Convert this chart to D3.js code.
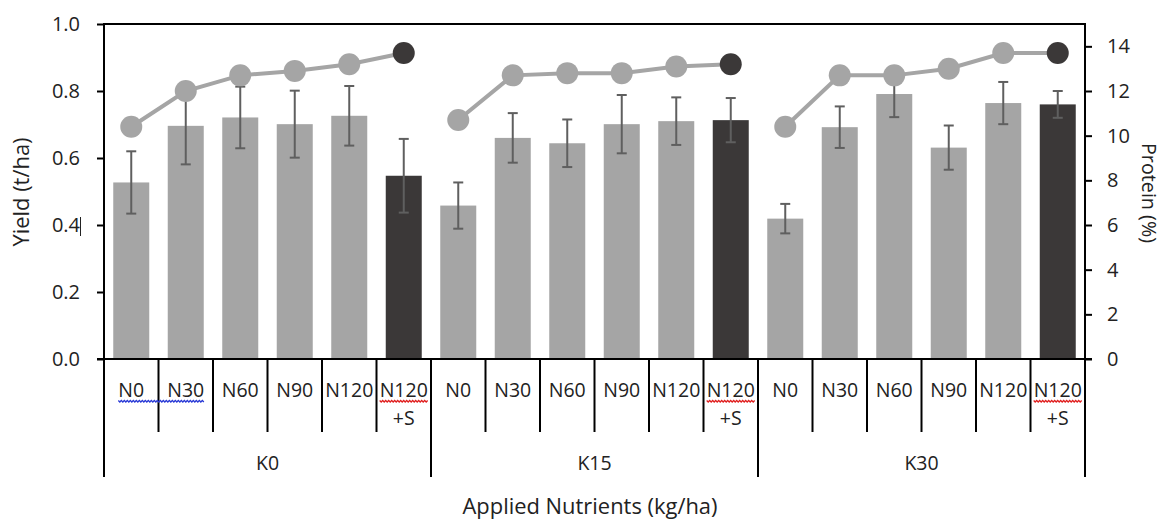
<!DOCTYPE html>
<html>
<head>
<meta charset="utf-8">
<script src="https://cdn.jsdelivr.net/npm/d3@7"></script>
<style>
  body { margin: 0; background: #fff; }
  svg text { font-family: "Open Sans", "Noto Sans", sans-serif; fill: #222; }
</style>
</head>
<body>
<div id="chart-container"></div>
<script>
// Chart data
const groups = ['K0', 'K15', 'K30'];
const nLevels = ['N0', 'N30', 'N60', 'N90', 'N120', 'N120+S'];
const yieldK0 = [0.527, 0.696, 0.721, 0.701, 0.726, 0.547];
const yieldK15 = [0.458, 0.660, 0.644, 0.701, 0.710, 0.713];
const yieldK30 = [0.419, 0.692, 0.791, 0.631, 0.764, 0.760];
const errK0 = [0.093, 0.115, 0.092, 0.100, 0.089, 0.110];
const errK15 = [0.069, 0.074, 0.071, 0.087, 0.071, 0.066];
const errK30 = [0.044, 0.062, 0.069, 0.066, 0.063, 0.040];
const proteinK0 = [10.4, 12.0, 12.7, 12.9, 13.2, 13.7];
const proteinK15 = [10.7, 12.7, 12.8, 12.8, 13.1, 13.2];
const proteinK30 = [10.4, 12.7, 12.7, 13.0, 13.7, 13.7];
const yieldTicks = [0, 0.2, 0.4, 0.6, 0.8, 1.0];
const proteinTicks = [0, 2, 4, 6, 8, 10, 12, 14];

const W = 1166, H = 521;
const plot = { left: 104, right: 1085, top: 24, bottom: 359 };
const light = '#a5a5a5', dark = '#3b3838', errColor = '#5f5f5f';

const yields = [yieldK0, yieldK15, yieldK30];
const errs = [errK0, errK15, errK30];
const proteins = [proteinK0, proteinK15, proteinK30];

// flatten into rows
const rows = [];
groups.forEach((g, gi) => {
    nLevels.forEach((n, ni) => {
        rows.push({
            idx: gi * nLevels.length + ni,
            group: g, gi, ni, label: n,
            yield: yields[gi][ni], err: errs[gi][ni], protein: proteins[gi][ni],
            sulfur: n.endsWith('+S')
        });
    });
});

const svg = d3.select('#chart-container').append('svg')
    .attr('width', W).attr('height', H);

const pad = 18.5 / 54.5;
const x = d3.scaleBand()
    .domain(rows.map(d => d.idx))
    .range([plot.left, plot.right])
    .paddingInner(pad).paddingOuter(pad / 2);
const step = x.step();
const slotLeft = i => x(i) - step * pad / 2;

const yL = d3.scaleLinear().domain([0, 1]).range([plot.bottom, plot.top]);
const yR = d3.scaleLinear().domain([0, 15]).range([plot.bottom, plot.top]);

// bars
svg.selectAll('.bar').data(rows).enter().append('rect')
    .attr('class', 'bar')
    .attr('x', d => x(d.idx))
    .attr('width', x.bandwidth())
    .attr('y', d => yL(d.yield))
    .attr('height', d => yL(0) - yL(d.yield))
    .attr('fill', d => d.sulfur ? dark : light);

// error bars
const eb = svg.selectAll('.err').data(rows).enter().append('g').attr('class', 'err')
    .attr('stroke', errColor).attr('stroke-width', 2);
const cx = d => x(d.idx) + x.bandwidth() / 2;
eb.append('line')
    .attr('x1', cx).attr('x2', cx)
    .attr('y1', d => yL(d.yield + d.err)).attr('y2', d => yL(d.yield - d.err));
eb.append('line')
    .attr('x1', d => cx(d) - 5).attr('x2', d => cx(d) + 5)
    .attr('y1', d => yL(d.yield + d.err)).attr('y2', d => yL(d.yield + d.err));
eb.append('line')
    .attr('x1', d => cx(d) - 5).attr('x2', d => cx(d) + 5)
    .attr('y1', d => yL(d.yield - d.err)).attr('y2', d => yL(d.yield - d.err));

// protein lines, one per group
const line = d3.line().x(cx).y(d => yR(d.protein));
groups.forEach((g, gi) => {
    svg.append('path')
        .datum(rows.filter(d => d.gi === gi))
        .attr('fill', 'none').attr('stroke', light).attr('stroke-width', 4)
        .attr('d', line);
});
svg.selectAll('.marker').data(rows).enter().append('circle')
    .attr('class', 'marker')
    .attr('cx', cx).attr('cy', d => yR(d.protein)).attr('r', 11)
    .attr('fill', d => d.sulfur ? dark : light);

// plot border
svg.append('rect')
    .attr('x', plot.left).attr('y', plot.top)
    .attr('width', plot.right - plot.left).attr('height', plot.bottom - plot.top)
    .attr('fill', 'none').attr('stroke', '#000').attr('stroke-width', 2);

// left axis
const axL = svg.append('g').attr('transform', `translate(${plot.left},0)`)
    .call(d3.axisLeft(yL).tickValues(yieldTicks).tickFormat(d3.format('.1f')).tickSize(7).tickPadding(17));
axL.select('.domain').remove();
axL.selectAll('line').attr('stroke', '#000').attr('stroke-width', 2);
axL.selectAll('text').attr('font-size', 20).attr('fill', '#222').attr('font-family', '"Open Sans", sans-serif');

// right axis
const axR = svg.append('g').attr('transform', `translate(${plot.right},0)`)
    .call(d3.axisRight(yR).tickValues(proteinTicks).tickSize(7).tickPadding(15));
axR.select('.domain').remove();
axR.selectAll('line').attr('stroke', '#000').attr('stroke-width', 2);
axR.selectAll('text').attr('font-size', 20).attr('fill', '#222').attr('font-family', '"Open Sans", sans-serif');

// bottom axis line extended
svg.append('line')
    .attr('x1', plot.left - 7).attr('x2', plot.right + 7)
    .attr('y1', plot.bottom).attr('y2', plot.bottom)
    .attr('stroke', '#000').attr('stroke-width', 2);

// category separators
const nCat = rows.length;
d3.range(nCat + 1).forEach(i => {
    const xx = i < nCat ? slotLeft(i) : plot.right;
    const isGroup = i % nLevels.length === 0;
    svg.append('line')
        .attr('x1', xx).attr('x2', xx)
        .attr('y1', plot.bottom).attr('y2', isGroup ? 477 : 432)
        .attr('stroke', '#000').attr('stroke-width', 2);
});

// category labels
const labels = svg.selectAll('.cat').data(rows).enter().append('text')
    .attr('class', 'cat')
    .attr('x', cx).attr('y', 397)
    .attr('text-anchor', 'middle').attr('font-size', 19.5)
    .text(d => d.sulfur ? 'N120' : d.label);
svg.selectAll('.cat2').data(rows.filter(d => d.sulfur)).enter().append('text')
    .attr('x', cx).attr('y', 425)
    .attr('text-anchor', 'middle').attr('font-size', 19.5)
    .text('+S');

// group labels
groups.forEach((g, gi) => {
    const a = slotLeft(gi * nLevels.length);
    const b = gi < groups.length - 1 ? slotLeft((gi + 1) * nLevels.length) : plot.right;
    svg.append('text')
        .attr('x', (a + b) / 2).attr('y', 470)
        .attr('text-anchor', 'middle').attr('font-size', 19.5)
        .text(g);
});

// spell-check squiggles under some labels
function squiggle(x0, x1, y, color) {
    const pts = d3.range(x0, x1 + 0.1, 1.5).map((v, k) => [v, y + (k % 2 ? 1 : -0.5)]);
    svg.append('path').attr('d', d3.line()(pts))
        .attr('fill', 'none').attr('stroke', color).attr('stroke-width', 1.3);
}
const lab = labels.nodes();
const textSpan = i => {
    const bb = lab[i].getBBox();
    return [bb.x, bb.x + bb.width];
};
squiggle(textSpan(0)[0], textSpan(1)[1], 401, '#2b3bd6');
rows.filter(d => d.sulfur).forEach(d => {
    const s = textSpan(d.idx);
    squiggle(s[0], s[1], 401, '#e02020');
});

// text cursor artifact after 0.4
svg.append('line').attr('x1', 80.5).attr('x2', 80.5).attr('y1', yL(0.4) - 8).attr('y2', yL(0.4) + 11)
    .attr('stroke', '#222').attr('stroke-width', 1);

// axis titles
svg.append('text')
    .attr('transform', 'translate(29,192) rotate(-90)')
    .attr('text-anchor', 'middle').attr('font-size', 21)
    .attr('textLength', 109).attr('lengthAdjust', 'spacingAndGlyphs')
    .text('Yield (t/ha)');
svg.append('text')
    .attr('transform', 'translate(1142,193) rotate(90)')
    .attr('text-anchor', 'middle').attr('font-size', 20)
    .attr('textLength', 100).attr('lengthAdjust', 'spacingAndGlyphs')
    .text('Protein (%)');
svg.append('text')
    .attr('x', 590).attr('y', 514)
    .attr('text-anchor', 'middle').attr('font-size', 21)
    .attr('textLength', 255).attr('lengthAdjust', 'spacingAndGlyphs')
    .text('Applied Nutrients (kg/ha)');
</script>
</body>
</html>
